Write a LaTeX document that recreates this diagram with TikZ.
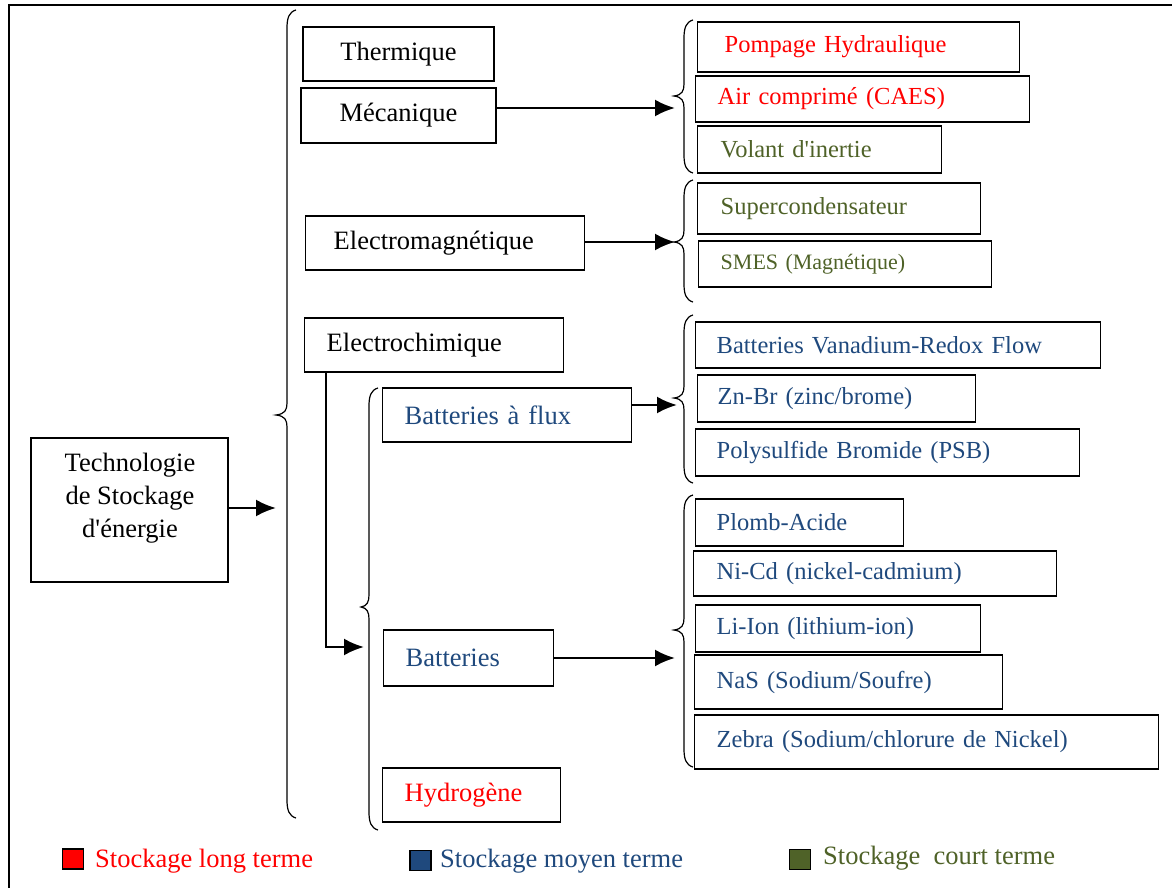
\documentclass[tikz,border=0pt]{standalone}
\usepackage{fontspec}
\setmainfont{Liberation Serif}
\usetikzlibrary{arrows.meta}
\definecolor{cred}{HTML}{FF0000}
\definecolor{cblue}{HTML}{1F497D}
\definecolor{cgreen}{HTML}{4F6228}
\newcommand{\mybrc}[6]{%
 \coordinate (#1) at (#6,#4);
 \draw[brc] (#2+9,#3) .. controls (#2+2,#3+2) and (#2,#3+8) .. (#2,#3+18) -- (#2,#4-12) .. controls (#2,#4-5) and (#2-2,#4-1) .. (#1) .. controls (#2-2,#4+1) and (#2,#4+5) .. (#2,#4+12) -- (#2,#5-18) .. controls (#2,#5-8) and (#2+2,#5-2) .. (#2+9,#5);}
\begin{document}
\begin{tikzpicture}[x=1pt,y=-1pt,
  box/.style={draw, line width=1.4pt, inner ysep=0pt, anchor=west, align=left},
  cbox/.style={draw, line width=1.4pt, inner sep=0pt, align=center},
  fL/.style={font=\fontsize{26.5}{33}\selectfont},
  fR/.style={font=\fontsize{24.5}{30}\selectfont},
  brc/.style={line width=1.2pt},
  arr/.style={line width=2.4pt, -{Latex[length=20pt,width=17pt]}},
  sq/.style={draw, line width=1.2pt, minimum width=21pt, minimum height=20pt, inner sep=0pt}
]
\useasboundingbox (0,0) rectangle (1172,888);
% frame
\coordinate (fr0) at (9,5);
\coordinate (fr1) at (1172,5);
\coordinate (fr2) at (9,888);
\draw[line width=1.4pt] (fr2) -- (fr0) -- (fr1);

% left column
\node[cbox, minimum width=197pt, minimum height=144pt] (tech) at (129.5,510) {};
\node[fL, align=center, inner sep=0pt] (techt) at (130,498) {Technologie\\de Stockage\\d\textquotesingle énergie};

\node[cbox, fL, minimum width=191pt, minimum height=54pt] (therm) at (398.5,54) {Thermique};
\node[cbox, fL, minimum width=195pt, minimum height=55pt] (meca) at (398.5,115.5) {Mécanique};
\node[box, fL, inner xsep=28pt, text width=223pt, minimum height=54pt] (emag) at (305,243) {Electromagnétique};
\node[box, fL, inner xsep=22pt, text width=215pt, minimum height=54pt] (echim) at (304,345) {Electrochimique};
\node[box, fL, text=cblue, inner xsep=22pt, text width=205pt, minimum height=54pt] (flux) at (382,415) {Batteries à flux};
\node[box, fL, text=cblue, inner xsep=22pt, text width=126pt, minimum height=56pt] (batt) at (383,658) {Batteries};
\node[box, fL, text=cred, inner xsep=22pt, text width=134pt, minimum height=54pt] (hydro) at (382,795) {Hydrogène};

% right column
\node[box, fR, text=cred, inner xsep=27pt, text width=268pt, minimum height=50pt] (pomp) at (697,47) {Pompage Hydraulique};
\node[box, fR, text=cred, inner xsep=22pt, text width=290pt, minimum height=46pt] (air) at (695,99) {Air comprimé (CAES)};
\node[box, fR, text=cgreen, inner xsep=23pt, text width=198pt, minimum height=47pt] (volant) at (697,149.5) {Volant d\textquotesingle inertie};
\node[box, fR, text=cgreen, inner xsep=23pt, text width=237pt, minimum height=51pt] (super) at (697,208.5) {Supercondensateur};
\node[box, font=\fontsize{22}{27}\selectfont, text=cgreen, inner xsep=22pt, text width=249pt, minimum height=46pt] (smes) at (698,264) {SMES (Magnétique)};
\node[box, fR, text=cblue, inner xsep=21pt, text width=363pt, minimum height=46pt] (vana) at (695,345) {Batteries Vanadium-Redox Flow};
\node[box, fR, text=cblue, inner xsep=20pt, text width=238pt, minimum height=47pt] (znbr) at (697,398.5) {Zn-Br (zinc/brome)};
\node[box, fR, text=cblue, inner xsep=21pt, text width=342pt, minimum height=47pt] (psb) at (695,452.5) {Polysulfide Bromide (PSB)};
\node[box, fR, text=cblue, inner xsep=21pt, text width=166pt, minimum height=47pt] (plomb) at (695,522.5) {Plomb-Acide};
\node[box, fR, text=cblue, inner xsep=23pt, text width=317pt, minimum height=45pt] (nicd) at (693,573.5) {Ni-Cd (nickel-cadmium)};
\node[box, fR, text=cblue, inner xsep=21pt, text width=243pt, minimum height=47pt] (liion) at (695,628.5) {Li-Ion (lithium-ion)};
\node[box, fR, text=cblue, inner xsep=22pt, text width=264pt, minimum height=54pt] (nas) at (694,682) {NaS (Sodium/Soufre)};
\node[box, fR, text=cblue, inner xsep=22pt, text width=420pt, minimum height=54pt] (zebra) at (694,742) {Zebra (Sodium/chlorure de Nickel)};

% braces
\mybrc{bA}{287}{10}{415}{818}{276}
\mybrc{bB}{684}{20}{96}{173}{674}
\mybrc{bC}{684}{180}{242}{302}{674}
\mybrc{bD}{369}{388}{607}{830}{361}
\mybrc{bE}{684}{315}{398}{483}{674}
\mybrc{bF}{684}{495}{630}{767}{674}

% arrow targets
\coordinate (tA) at (276,508);
\coordinate (tB) at (675,108);
\coordinate (tC) at (675,242);
\coordinate (tE) at (677,405);
\coordinate (tF) at (675,658);
\coordinate (tD) at (364,647);
\coordinate (eD) at (326,372);

\draw[arr] (tech.east |- tA) -- (tA);
\draw[arr] (meca.east |- tB) -- (tB);
\draw[arr] (emag.east |- tC) -- (tC);
\draw[arr] (flux.east |- tE) -- (tE);
\draw[arr] (batt.east |- tF) -- (tF);
\draw[arr] (eD) -- (eD |- tD) -- (tD);

% legend
\node[sq, fill=cred] (lr) at (73,859) {};
\node[fL, text=cred, anchor=west, inner sep=0pt] (lrt) at (95,861) {Stockage long terme};
\node[sq, fill=cblue] (lb) at (420.5,860.5) {};
\node[fL, text=cblue, anchor=west, inner sep=0pt] (lbt) at (440,861) {Stockage moyen terme};
\node[sq, fill=cgreen] (lg) at (800,859.5) {};
\node[fL, text=cgreen, anchor=west, inner sep=0pt] (lgt) at (823,858) {Stockage\ \ court terme};
\end{tikzpicture}
\end{document}
